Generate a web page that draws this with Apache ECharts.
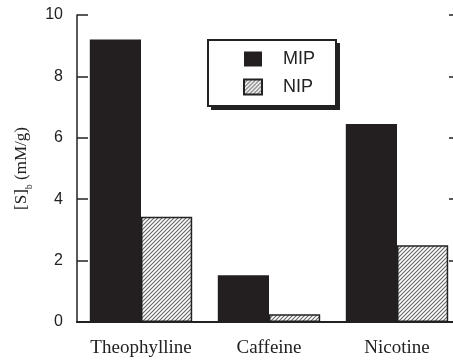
<!DOCTYPE html>
<html><head><meta charset="utf-8">
<script src="https://cdn.jsdelivr.net/npm/echarts@6/dist/echarts.min.js"></script>
<style>html,body{margin:0;padding:0;background:#fff}#c{width:453px;height:360px}</style>
</head><body><div id="c"></div>
<script>
const categories = ['Theophylline', 'Caffeine', 'Nicotine'];
const mipValues = [9.2, 1.52, 6.45];
const nipValues = [3.43, 0.25, 2.5];
const seriesNames = ['MIP', 'NIP'];
const yTicks = [0, 2, 4, 6, 8, 10];

function hatch() {
  const c = document.createElement('canvas');
  c.width = 4; c.height = 4;
  const g = c.getContext('2d');
  g.fillStyle = '#fff'; g.fillRect(0, 0, 4, 4);
  g.strokeStyle = '#6a6a6a'; g.lineWidth = 1.2;
  g.beginPath();
  g.moveTo(-1, 5); g.lineTo(5, -1);
  g.moveTo(-1, 1); g.lineTo(1, -1);
  g.moveTo(3, 5); g.lineTo(5, 3);
  g.stroke();
  return c;
}

const chart = echarts.init(document.getElementById('c'));
chart.setOption({
  animation: false,
  grid: { left: 77, top: 15, width: 384, bottom: 38, outerBoundsMode: 'none', containLabel: false },
  legend: {
    data: seriesNames,
    z: 10,
    orient: 'vertical',
    left: 208, top: 40,
    padding: [10, 21, 10, 35],
    itemWidth: 18, itemHeight: 15, itemGap: 10,
    icon: 'rect',
    backgroundColor: '#fff',
    borderColor: '#222', borderWidth: 2,
    textStyle: { fontFamily: 'Liberation Sans', fontSize: 18, color: '#222', padding: [0, 0, 0, 16] }
  },
  xAxis: [{
    type: 'category', data: categories,
    axisLine: { lineStyle: { color: '#222', width: 1.5 } },
    axisTick: { show: false },
    axisLabel: { interval: 0, hideOverlap: false, fontFamily: 'Liberation Serif', fontSize: 19, color: '#222', margin: 17 }
  }, {
    type: 'category', data: categories, position: 'top',
    axisLine: { lineStyle: { color: '#222', width: 2 } },
    axisTick: { show: false }, axisLabel: { show: false }
  }],
  yAxis: [{
    type: 'value', min: 0, max: 10, interval: 2,
    name: '{n|[S]}{s|b}{n| (mM/g)}',
    nameLocation: 'middle', nameGap: 26, nameRotate: 90,
    nameTextStyle: {
      rich: {
        n: { fontFamily: 'Liberation Serif', fontSize: 17, color: '#222' },
        s: { fontFamily: 'Liberation Serif', fontSize: 10, color: '#222', padding: [16, 0, 0, 0] }
      }
    },
    axisLine: { show: true, lineStyle: { color: '#222', width: 1.5 } },
    axisTick: { show: true, inside: true, length: 11, lineStyle: { color: '#222', width: 1.5 } },
    axisLabel: { fontFamily: 'Liberation Sans', fontSize: 16, color: '#222', margin: 14,
      formatter: v => yTicks.includes(v) ? String(v) : '' },
    splitLine: { show: false }
  }, {
    type: 'value', min: 0, max: 10, interval: 2, position: 'right',
    axisLine: { show: true, lineStyle: { color: '#222', width: 1.5 } },
    axisTick: { show: true, inside: true, length: 12, lineStyle: { color: '#222', width: 1.5 } },
    axisLabel: { show: false }, splitLine: { show: false }
  }],
  series: [{
    name: seriesNames[0], type: 'bar', data: mipValues,
    barGap: '0%', barCategoryGap: '20%',
    itemStyle: { color: '#231f20' }
  }, {
    name: seriesNames[1], type: 'bar', data: nipValues,
    barGap: '0%', barCategoryGap: '20%',
    itemStyle: { color: { image: hatch(), repeat: 'repeat' }, borderColor: '#222', borderWidth: 1.5 }
  }]
});

// drop shadow behind the legend box, sized from the legend's rendered bounds
let box = null;
try {
  const views = chart._componentsViews || [];
  for (const v of views) {
    if (v && v.__model && v.__model.mainType === 'legend') {
      const r = v.group.getBoundingRect();
      box = { x: r.x + v.group.x, y: r.y + v.group.y, w: r.width, h: r.height };
    }
  }
} catch (e) { box = null; }
if (!box) box = { x: 207, y: 39, w: 130, h: 67 };
chart.setOption({
  graphic: [{
    type: 'rect', z: 1, silent: true,
    shape: { x: box.x + 4, y: box.y + 4, width: box.w - 1, height: box.h - 1 },
    style: { fill: '#222' }
  }]
});
</script></body></html>
